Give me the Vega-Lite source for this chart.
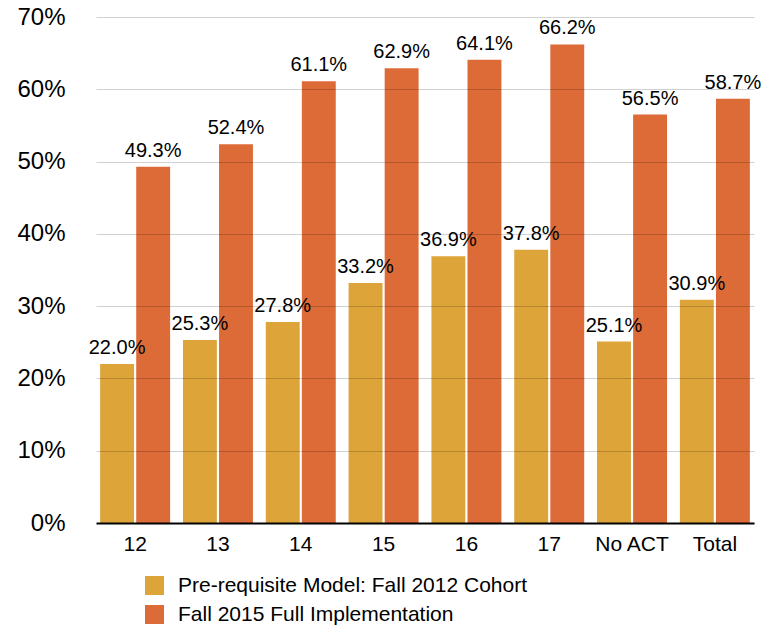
{
  "$schema": "https://vega.github.io/schema/vega-lite/v6.json",
  "width": 658,
  "height": 506,
  "autosize": {"type": "none"},
  "padding": {"left": 96, "top": 17, "right": 16, "bottom": 106},
  "background": "white",
  "config": {
    "font": "Liberation Sans",
    "view": {"stroke": null}
  },
  "data": {
    "values": [
      {"score": "12", "series": "Pre-requisite Model: Fall 2012 Cohort", "value": 0.220},
      {"score": "13", "series": "Pre-requisite Model: Fall 2012 Cohort", "value": 0.253},
      {"score": "14", "series": "Pre-requisite Model: Fall 2012 Cohort", "value": 0.278},
      {"score": "15", "series": "Pre-requisite Model: Fall 2012 Cohort", "value": 0.332},
      {"score": "16", "series": "Pre-requisite Model: Fall 2012 Cohort", "value": 0.369},
      {"score": "17", "series": "Pre-requisite Model: Fall 2012 Cohort", "value": 0.378},
      {"score": "No ACT", "series": "Pre-requisite Model: Fall 2012 Cohort", "value": 0.251},
      {"score": "Total", "series": "Pre-requisite Model: Fall 2012 Cohort", "value": 0.309},
      {"score": "12", "series": "Fall 2015 Full Implementation", "value": 0.493},
      {"score": "13", "series": "Fall 2015 Full Implementation", "value": 0.524},
      {"score": "14", "series": "Fall 2015 Full Implementation", "value": 0.611},
      {"score": "15", "series": "Fall 2015 Full Implementation", "value": 0.629},
      {"score": "16", "series": "Fall 2015 Full Implementation", "value": 0.641},
      {"score": "17", "series": "Fall 2015 Full Implementation", "value": 0.662},
      {"score": "No ACT", "series": "Fall 2015 Full Implementation", "value": 0.565},
      {"score": "Total", "series": "Fall 2015 Full Implementation", "value": 0.587}
    ]
  },
  "encoding": {
    "x": {
      "field": "score", "type": "nominal", "sort": null,
      "scale": {"paddingInner": 0.155, "paddingOuter": 0.05},
      "axis": {
        "title": null, "labelAngle": 0, "labelFontSize": 21, "labelColor": "#000",
        "ticks": false, "labelPadding": 10, "domainColor": "#000", "domainWidth": 2,
        "zindex": 1
      }
    },
    "xOffset": {
      "field": "series", "type": "nominal", "sort": null,
      "scale": {"paddingInner": 0.06}
    },
    "y": {
      "field": "value", "type": "quantitative",
      "scale": {"domain": [0, 0.7]},
      "axis": {
        "title": null, "format": ".0%", "values": [0, 0.1, 0.2, 0.3, 0.4, 0.5, 0.6, 0.7],
        "labelFontSize": 24, "labelColor": "#000", "ticks": false, "domain": false,
        "labelPadding": 31, "gridColor": "#000", "gridOpacity": 0.18, "gridWidth": 1,
        "zindex": 1
      }
    }
  },
  "layer": [
    {
      "mark": {"type": "bar"},
      "encoding": {
        "color": {
          "field": "series", "type": "nominal", "sort": null,
          "scale": {
            "domain": ["Pre-requisite Model: Fall 2012 Cohort", "Fall 2015 Full Implementation"],
            "range": ["#DDA43A", "#DD6B38"]
          },
          "legend": {
            "title": null, "orient": "none", "legendX": 48, "legendY": 558,
            "direction": "vertical", "symbolType": "square", "symbolSize": 361,
            "symbolStrokeWidth": 0, "symbolOpacity": 1,
            "labelFontSize": 21, "labelColor": "#000", "rowPadding": 7, "labelOffset": 13,
            "labelLimit": 600
          }
        }
      }
    },
    {
      "mark": {"type": "text", "baseline": "alphabetic", "dy": -10, "fontSize": 20, "color": "#000"},
      "encoding": {
        "text": {"field": "value", "type": "quantitative", "format": ".1%"}
      }
    }
  ]
}
